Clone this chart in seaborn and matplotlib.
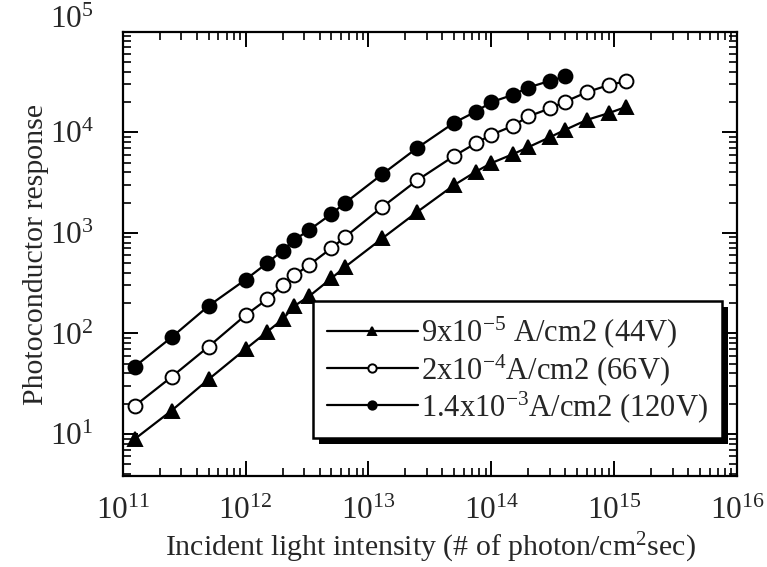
import numpy as np
import pandas as pd
import matplotlib
matplotlib.use("Agg")
import matplotlib.pyplot as plt
import matplotlib.ticker as mticker
from matplotlib.patches import Rectangle
from matplotlib.transforms import IdentityTransform, ScaledTranslation
import seaborn as sns

# Incident light intensity (photons / cm^2 s)
intensity = [1.25e11, 2.5e11, 5e11, 1e12, 1.5e12, 2e12, 2.5e12, 3.3e12, 5e12, 6.5e12,
             1.3e13, 2.5e13, 5e13, 7.5e13, 1e14, 1.5e14, 2e14, 3e14, 4e14, 6e14,
             9e14, 1.25e15]

# Photoconductor response for the three bias conditions
resp_44v = [8.9, 17.1, 35, 70, 104, 138, 188, 235, 354, 462,
            885, 1620, 3000, 4070, 4940, 6070, 7120, 8950, 10600, 13300,
            15500, 17900]
resp_66v = [19, 37, 74, 152, 219, 300, 379, 481, 705, 918,
            1815, 3345, 5840, 7810, 9450, 11600, 14400, 17300, 20200, 25100,
            29500, 32200]
resp_120v = [46.7, 91.6, 188, 343, 502, 667, 852, 1071, 1545, 2000,
             3845, 7015, 12500, 16100, 19960, 23600, 27900, 32500, 35900]

labels = [r"9x10$^{-5}$ A/cm2 (44V)",
          r"2x10$^{-4}$A/cm2 (66V)",
          r"1.4x10$^{-3}$A/cm2 (120V)"]

x_ticks = [1e11, 1e12, 1e13, 1e14, 1e15, 1e16]
y_ticks = [1e1, 1e2, 1e3, 1e4, 1e5]

sns.set_style("ticks")
plt.rcParams["font.family"] = ["Liberation Serif", "DejaVu Serif"]
plt.rcParams["mathtext.fontset"] = "custom"
plt.rcParams["mathtext.rm"] = "Liberation Serif"
plt.rcParams["mathtext.it"] = "Liberation Serif:italic"
plt.rcParams["mathtext.bf"] = "Liberation Serif:bold"

fig = plt.figure(figsize=(7.67, 5.67), dpi=100)
ax = fig.add_axes([0.16, 0.16, 0.801, 0.784])

series = [
    (resp_44v, "^", "black", labels[0]),
    (resp_66v, "o", "white", labels[1]),
    (resp_120v, "o", "black", labels[2]),
]
for values, mk, face, lab in series:
    df = pd.DataFrame({"x": intensity[:len(values)], "y": values})
    sns.lineplot(data=df, x="x", y="y", ax=ax, color="black", lw=1.6,
                 marker=mk, markersize=10, markerfacecolor=face,
                 markeredgecolor="black", markeredgewidth=1.4,
                 label=lab, sort=False, estimator=None)

ax.set_xscale("log")
ax.set_yscale("log")
ax.set_xlim(1e11, 1e16)
ax.set_ylim(3.8, 1e5)

ax.xaxis.set_major_locator(mticker.FixedLocator(x_ticks))
ax.yaxis.set_major_locator(mticker.FixedLocator(y_ticks))
ax.xaxis.set_major_formatter(mticker.LogFormatterSciNotation())
ax.yaxis.set_major_formatter(mticker.LogFormatterSciNotation())
ax.xaxis.set_minor_locator(mticker.LogLocator(base=10, subs=np.arange(2, 10), numticks=20))
ax.yaxis.set_minor_locator(mticker.LogLocator(base=10, subs=np.arange(2, 10), numticks=20))
ax.xaxis.set_minor_formatter(mticker.NullFormatter())
ax.yaxis.set_minor_formatter(mticker.NullFormatter())

ax.tick_params(which="both", direction="in", top=True, right=True, color="black")
ax.tick_params(which="major", length=11, width=1.4, labelsize=22.5)
ax.tick_params(which="minor", length=5.5, width=1.2)
ax.tick_params(axis="x", which="major", pad=15)
ax.tick_params(axis="y", which="major", pad=21)
for side in ax.spines.values():
    side.set_linewidth(1.6)
    side.set_color("black")

ax.set_xlabel(r"Incident light intensity (# of photon/cm$^2$sec)", fontsize=21.5)
ax.set_ylabel("Photoconductor response", fontsize=21.5)
ax.xaxis.set_label_coords(0.5, -0.123)
ax.yaxis.set_label_coords(-0.12, 0.5)

leg = ax.legend(loc="upper left", bbox_to_anchor=(0.31, 0.394), borderaxespad=0,
                fontsize=22, handlelength=3.0, handletextpad=0.1, markerscale=0.6,
                labelspacing=0.05, borderpad=0.44, fancybox=False, framealpha=1,
                edgecolor="black")
leg.get_frame().set_linewidth(1.8)
leg.set_zorder(5)

# the topmost y label sits a little above its tick
fig.canvas.draw()
top_lab = ax.yaxis.get_major_ticks()[4].label1
top_lab.set_transform(top_lab.get_transform() +
                      ScaledTranslation(0, 11 / 72, fig.dpi_scale_trans))

# solid drop shadow behind the legend box
bb = leg.legendPatch.get_window_extent()
shadow = Rectangle((bb.x0 + 6, bb.y0 - 6), bb.width, bb.height,
                   transform=IdentityTransform(), facecolor="black",
                   edgecolor="none", zorder=4.9)
ax.add_artist(shadow)

fig.savefig("out.png", dpi=100, facecolor="white")
